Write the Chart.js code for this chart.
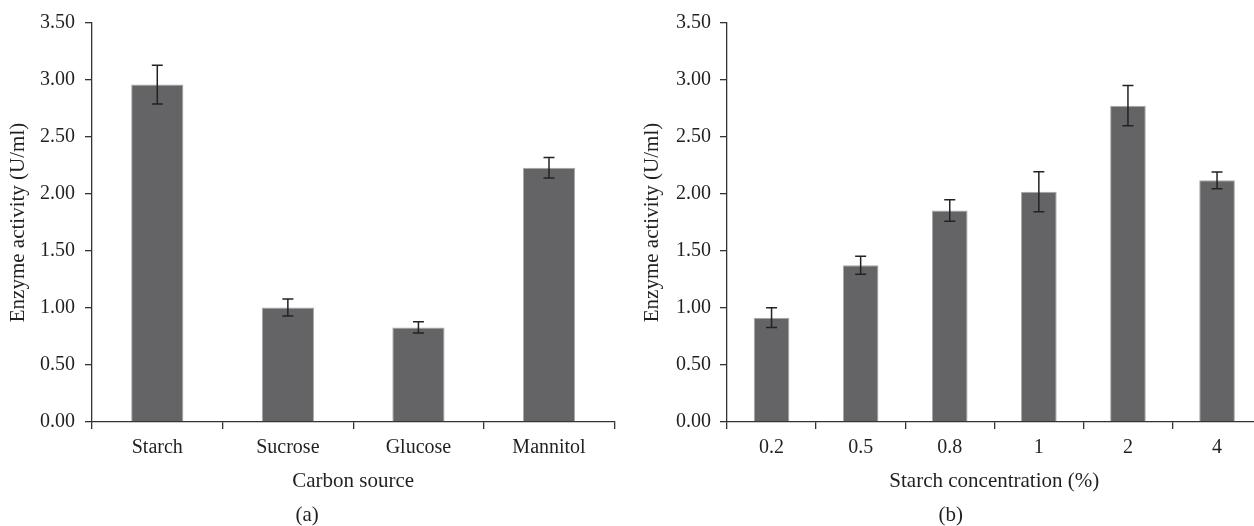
<!DOCTYPE html>
<html>
<head>
<meta charset="utf-8">
<script src="https://cdn.jsdelivr.net/npm/chart.js@4/dist/chart.umd.min.js"></script>
<style>
  html, body { margin: 0; padding: 0; background: #fff; overflow: hidden; }
  #wrap { position: relative; width: 1254px; height: 526px; overflow: hidden; }
  #chartA { position: absolute; left: 0; top: 0; }
  #chartB { position: absolute; left: 640px; top: 0; }
</style>
</head>
<body>
<div id="wrap">
  <canvas id="chartA" width="640" height="526"></canvas>
  <canvas id="chartB" width="640" height="526"></canvas>
</div>
<script>
// panel (a): carbon source
const carbonSources = ["Starch", "Sucrose", "Glucose", "Mannitol"];
const carbonActivity = [2.96, 1.005, 0.83, 2.23];
const carbonError = [0.17, 0.075, 0.05, 0.09];

// panel (b): starch concentration
const starchConc = ["0.2", "0.5", "0.8", "1", "2", "4"];
const starchActivity = [0.915, 1.375, 1.855, 2.02, 2.775, 2.12];
const starchError = [0.087, 0.078, 0.094, 0.175, 0.177, 0.073];

const yTicks = [0, 0.5, 1, 1.5, 2, 2.5, 3, 3.5];

const FONT = "'Liberation Serif', 'DejaVu Serif', serif";
const INK = "#231f20";

// draws the +/- error whiskers on top of each bar
const errorBars = {
  id: "errorBars",
  afterDatasetsDraw(chart, args, opts) {
    const ctx = chart.ctx;
    const y = chart.scales.y;
    const meta = chart.getDatasetMeta(0);
    const vals = chart.data.datasets[0].data;
    ctx.save();
    ctx.strokeStyle = "#222";
    ctx.lineWidth = 1.5;
    meta.data.forEach((bar, i) => {
      const e = opts.errors[i];
      const hi = y.getPixelForValue(vals[i] + e);
      const lo = y.getPixelForValue(vals[i] - e);
      const x = bar.x;
      ctx.beginPath();
      ctx.moveTo(x, hi); ctx.lineTo(x, lo);
      ctx.moveTo(x - 5.5, hi); ctx.lineTo(x + 5.5, hi);
      ctx.moveTo(x - 5.5, lo); ctx.lineTo(x + 5.5, lo);
      ctx.stroke();
    });
    ctx.restore();
  }
};

function makeConfig(labels, values, errors, xTitle, caption, yWidth, yTitlePad, tickPad, padRight) {
  return {
    type: "bar",
    data: {
      labels: labels,
      datasets: [{
        data: values,
        backgroundColor: "#646466",
        borderColor: "#a8a8a8",
        borderWidth: 1,
        borderSkipped: "bottom",
        categoryPercentage: 1,
        barPercentage: 0.4
      }]
    },
    options: {
      responsive: false,
      animation: false,
      devicePixelRatio: 1,
      layout: { padding: { top: 23, right: padRight, bottom: 0, left: 0 } },
      plugins: {
        legend: { display: false },
        tooltip: { enabled: false },
        title: {
          display: true,
          text: caption,
          position: "bottom",
          color: INK,
          font: { family: FONT, size: 21, weight: "normal", lineHeight: 1 },
          padding: { top: 11, bottom: 0 }
        },
        errorBars: { errors: errors }
      },
      scales: {
        x: {
          afterFit: (s) => { s.height = 72; },
          grid: {
            offset: true,
            drawOnChartArea: false,
            drawTicks: true,
            tickLength: 7,
            color: "#333",
            lineWidth: 1.3
          },
          border: { color: "#333", width: 1.3 },
          ticks: {
            color: INK,
            padding: 7,
            font: { family: FONT, size: 20 }
          },
          title: {
            display: true,
            text: xTitle,
            color: INK,
            font: { family: FONT, size: 21 },
            padding: { top: 0, bottom: 0 }
          }
        },
        y: {
          min: 0,
          max: 3.5,
          afterFit: (s) => { s.width = yWidth; },
          afterBuildTicks: (s) => { s.ticks = yTicks.map(v => ({ value: v })); },
          grid: {
            drawOnChartArea: false,
            drawTicks: true,
            tickLength: 7,
            color: "#333",
            lineWidth: 1.3
          },
          border: { color: "#333", width: 1.3 },
          ticks: {
            color: INK,
            padding: tickPad,
            font: { family: FONT, size: 20 },
            callback: (v) => Number(v).toFixed(2)
          },
          title: {
            display: true,
            text: "Enzyme activity (U/ml)",
            color: INK,
            font: { family: FONT, size: 21 },
            padding: { top: yTitlePad, bottom: 0 }
          }
        }
      }
    },
    plugins: [errorBars]
  };
}

new Chart(document.getElementById("chartA"),
  makeConfig(carbonSources, carbonActivity, carbonError, "Carbon source", "(a)", 92, 6, 10, 25.7));
new Chart(document.getElementById("chartB"),
  makeConfig(starchConc, starchActivity, starchError, "Starch concentration (%)", "(b)", 87, 0, 9, 18.4));
</script>
</body>
</html>
